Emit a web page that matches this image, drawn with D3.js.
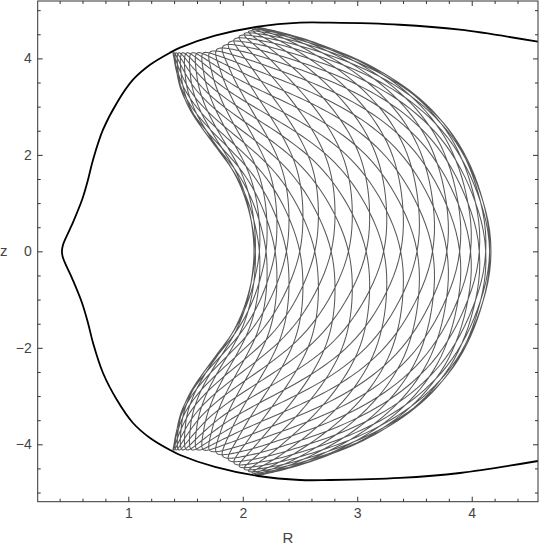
<!DOCTYPE html>
<html>
<head>
<meta charset="utf-8">
<script src="https://cdnjs.cloudflare.com/ajax/libs/d3/7.8.5/d3.min.js"></script>
<style>
  body { margin: 0; background: #fff; }
  svg { display: block; }
  .tick text { font-family: "Liberation Sans", Arial, sans-serif; font-size: 14px; fill: #444; }
  .lbl { font-family: "Liberation Sans", Arial, sans-serif; font-size: 15px; fill: #444; }
</style>
</head>
<body>
<script>
'use strict';

// zero-velocity curve, upper half (R, z), from the tip outwards; the lower half is its mirror
const zvcR = [0.42, 0.43, 0.508, 0.596, 0.648, 0.692, 0.779, 0.901, 1.041, 1.19, 1.364, 1.452, 1.757, 2.133, 2.5, 2.762, 3.373, 3.897, 4.578];
const zvcZ = [0, 0.139, 0.553, 1.07, 1.486, 1.90, 2.522, 3.082, 3.558, 3.869, 4.118, 4.222, 4.47, 4.657, 4.74, 4.74, 4.698, 4.595, 4.346];

// edges of the region the orbit fills (upper half, from z = 0 up to the corners)
const innerR = [2.098, 2.089, 2.054, 1.993, 1.906, 1.783, 1.652, 1.539, 1.460, 1.417, 1.390];
const innerZ = [0, 0.346, 0.823, 1.279, 1.693, 2.108, 2.522, 2.937, 3.351, 3.765, 4.118];
const outerR = [4.168, 4.151, 4.090, 3.985, 3.837, 3.618, 3.356, 3.068, 2.762, 2.456, 2.133];
const outerZ = [0, 0.525, 1.126, 1.789, 2.411, 3.012, 3.509, 3.903, 4.214, 4.463, 4.650];
// top edge, from the inner corner to the outer corner
const topR = [1.390, 1.556, 1.713, 1.801, 1.888, 1.976, 2.063, 2.133];
const topZ = [4.118, 4.118, 4.139, 4.222, 4.346, 4.47, 4.574, 4.650];

// orbit: swings across / along the region (counted off the picture), phases, vertical profile blend
const orbitSwings = [13, 21];
const orbitPhase = [0, Math.PI / 2];
const orbitProfile = 0.8;

// ticks
const xMajor = [1, 2, 3, 4];
const xMinor = d3.range(0.4, 4.5, 0.2).filter(v => Math.abs(v - Math.round(v)) > 0.01);
const yMajor = [-4, -2, 0, 2, 4];
const yMinor = d3.range(-5, 5.01, 0.5).filter(v => Math.abs(v / 2 - Math.round(v / 2)) > 0.01);

(function () {
  const W = 540, H = 549;
  const mLeft = 37.7, mRight = 538, mTop = 1, mBottom = 501.7;

  const svg = d3.select('body').append('svg').attr('width', W).attr('height', H);

  const x = d3.scaleLinear().domain([0.2085, 4.579]).range([mLeft, mRight]);
  const y = d3.scaleLinear().domain([-5.19, 5.19]).range([mBottom, mTop]);

  svg.append('clipPath').attr('id', 'plot')
    .append('rect').attr('x', mLeft).attr('y', mTop).attr('width', mRight - mLeft).attr('height', mBottom - mTop);

  const line = d3.line().x(d => x(d[0])).y(d => y(d[1]));
  const smooth = d3.line().x(d => x(d[0])).y(d => y(d[1])).curve(d3.curveCatmullRom.alpha(0.5));

  function pairs(rs, zs) { return rs.map((r, i) => [r, zs[i]]); }
  function mirrored(rs, zs) {
    // first point sits on z = 0: lower half (reversed, z negated) then the upper half
    const up = pairs(rs, zs);
    const down = up.slice(1).reverse().map(d => [d[0], -d[1]]);
    return down.concat(up);
  }

  // sample a smooth curve through points by arc length: s in [0,1] -> [R, z]
  function sampler(pts) {
    const p = svg.append('path').attr('d', smooth(pts)).attr('fill', 'none');
    const node = p.node(), L = node.getTotalLength(), n = 400;
    const s = d3.range(n + 1).map(i => {
      const q = node.getPointAtLength(L * i / n);
      return [x.invert(q.x), y.invert(q.y)];
    });
    p.remove();
    return function (t) {
      const f = Math.max(0, Math.min(1, t)) * n;
      const i = Math.min(n - 1, Math.floor(f)), a = f - i;
      return [s[i][0] * (1 - a) + s[i + 1][0] * a, s[i][1] * (1 - a) + s[i + 1][1] * a];
    };
  }

  const inner = sampler(mirrored(innerR, innerZ));
  const outer = sampler(mirrored(outerR, outerZ));
  const topEdge = sampler(pairs(topR, topZ));
  const botEdge = sampler(pairs(topR, topZ.map(v => -v)));

  const c00 = inner(0), c10 = outer(0), c01 = inner(1), c11 = outer(1);
  function patch(u, w) {
    const I = inner(w), O = outer(w), T = topEdge(u), B = botEdge(u);
    return [0, 1].map(k =>
      (1 - u) * I[k] + u * O[k] + (1 - w) * B[k] + w * T[k]
      - ((1 - u) * (1 - w) * c00[k] + u * (1 - w) * c10[k] + (1 - u) * w * c01[k] + u * w * c11[k]));
  }

  // vertical swing: blend of a sine and a constant-pull (parabolic) swing
  function swing(a) {
    const p = ((a / (2 * Math.PI)) % 1 + 1) % 1;          // 0..1 over one cycle
    const q = p < 0.5 ? p * 2 : (1 - p) * 2;               // 0..1..0
    const par = q < 0.5 ? -1 + 4 * q * q : 1 - 4 * (1 - q) * (1 - q);
    const sine = -Math.cos(Math.PI * q);
    return (1 - orbitProfile) * sine + orbitProfile * par;
  }

  const cycles = orbitSwings[1];
  const ratio = orbitSwings[0] / orbitSwings[1];
  const steps = cycles * 260;
  const orbit = d3.range(steps + 1).map(i => {
    const t = 2 * Math.PI * cycles * i / steps;
    const u = (1 - Math.cos(ratio * t + orbitPhase[0])) / 2;
    const w = (1 + swing(t + orbitPhase[1])) / 2;
    return patch(u, w);
  });

  const g = svg.append('g').attr('clip-path', 'url(#plot)');
  g.append('path').datum(orbit)
    .attr('d', line)
    .attr('fill', 'none')
    .attr('stroke', '#585858')
    .attr('stroke-width', 1.05);

  g.append('path').datum(mirrored(zvcR, zvcZ))
    .attr('d', smooth)
    .attr('fill', 'none')
    .attr('stroke', '#000')
    .attr('stroke-width', 1.8);

  // frame and ticks, all pointing inwards
  function ticks(axis, values, size, labels, tx, ty) {
    const a = svg.append('g').attr('transform', `translate(${tx},${ty})`)
      .call(axis.tickValues(values).tickSize(-size).tickPadding(labels ? 6 : 0)
        .tickFormat(labels ? d3.format('d') : ''));
    a.select('.domain').remove();
    a.selectAll('line').attr('stroke', '#333');
    return a;
  }
  ticks(d3.axisBottom(x), xMajor, 5, true, 0, mBottom);
  ticks(d3.axisBottom(x), xMinor, 3, false, 0, mBottom);
  ticks(d3.axisTop(x), xMajor, 5, false, 0, mTop);
  ticks(d3.axisTop(x), xMinor, 3, false, 0, mTop);
  ticks(d3.axisLeft(y), yMajor, 5, true, mLeft, 0);
  ticks(d3.axisLeft(y), yMinor, 3, false, mLeft, 0);
  ticks(d3.axisRight(y), yMajor, 5, false, mRight, 0);
  ticks(d3.axisRight(y), yMinor, 3, false, mRight, 0);

  svg.append('rect')
    .attr('x', mLeft).attr('y', mTop)
    .attr('width', mRight - mLeft).attr('height', mBottom - mTop)
    .attr('fill', 'none').attr('stroke', '#333').attr('stroke-width', 1);

  svg.append('text').attr('class', 'lbl').attr('x', 288).attr('y', 543).attr('text-anchor', 'middle').text('R');
  svg.append('text').attr('class', 'lbl').attr('x', 0).attr('y', 256).text('z');
})();
</script>
</body>
</html>
